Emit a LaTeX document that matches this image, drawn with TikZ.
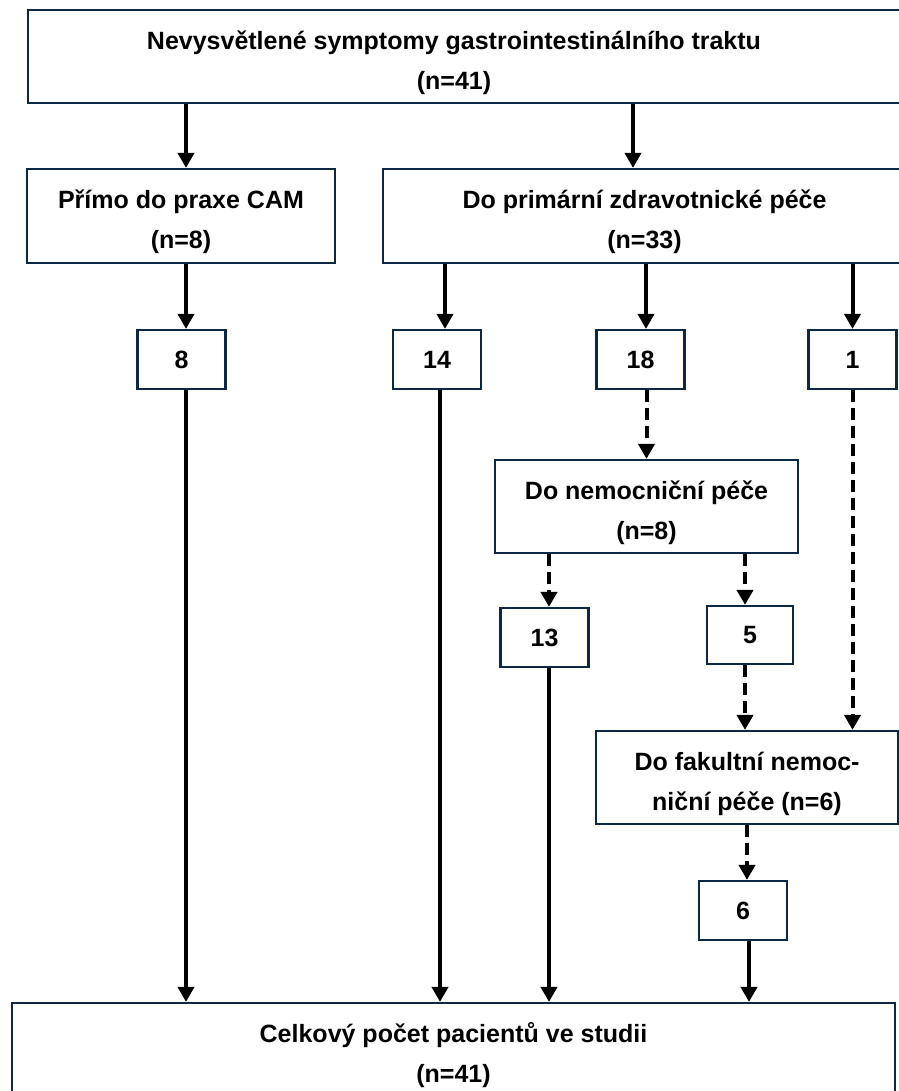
\documentclass[tikz,border=0pt]{standalone}
\usepackage{fontspec}
\setmainfont{Liberation Sans}
\usetikzlibrary{arrows.meta}
\definecolor{navy}{RGB}{14,40,65}
\newcommand{\tstrut}{\rule{0pt}{31pt}}

\begin{document}
\begin{tikzpicture}[x=1pt,y=-1pt,
  box/.style={draw=navy, line width=2.2pt, inner sep=0pt, align=center,
    font=\fontsize{25}{40}\selectfont\bfseries},
  txt/.style={align=center, inner sep=0pt, font=\fontsize{25}{40}\selectfont\bfseries},
  num/.style={box, minimum width=88pt, minimum height=59pt},
  arr/.style={line width=4pt, -{Triangle[width=16pt,length=15pt]}},
  darr/.style={arr, dash pattern=on 12pt off 6pt}]
\useasboundingbox (0,0) rectangle (898,1091);
%\draw[help lines, step=50] (0,0) grid (898,1091);
\node[box, minimum width=872pt, minimum height=93pt,
  label={[txt, xshift=-10pt]center:{\tstrut Nevysvětlené symptomy gastrointestinálního traktu\\(n=41)}}]
  (sympt) at (464,56.5) {};
\node[box, minimum width=308pt, minimum height=94pt] (prime) at (181,216) {\tstrut Přímo do praxe CAM\\(n=8)};
\node[box, minimum width=523pt, minimum height=94pt] (primar) at (644.5,216) {\tstrut Do primární zdravotnické péče\\(n=33)};
\node[num] (n8) at (181.5,359.5) {8};
\node[num] (n14) at (437,359.5) {14};
\node[num] (n18) at (640.5,359.5) {18};
\node[num] (n1) at (852.5,359.5) {1};
\node[box, minimum width=303pt, minimum height=93pt] (nemoc) at (646.5,506.5) {\tstrut Do nemocniční péče\\(n=8)};
\node[num] (n13) at (544.5,637.5) {13};
\node[num, minimum width=86pt, minimum height=58pt] (n5) at (750,635) {5};
\node[box, minimum width=302pt, minimum height=93pt] (fak) at (747,777.5) {\tstrut Do fakultní nemoc-\\niční péče (n=6)};
\node[num] (n6) at (743,910.5) {6};
\node[box, minimum width=883pt, minimum height=94pt] (total) at (453.5,1050) {\tstrut Celkový počet pacientů ve studii\\(n=41)};

% solid arrows
\draw[arr] ([xshift=5pt]prime.north |- sympt.south) -- ([xshift=5pt]prime.north);
\draw[arr] ([xshift=-11.5pt]primar.north |- sympt.south) -- ([xshift=-11.5pt]primar.north);
\draw[arr] ([xshift=4.5pt]n8.north |- prime.south) -- ([xshift=4.5pt]n8.north);
\draw[arr] ([xshift=8pt]n14.north |- primar.south) -- ([xshift=8pt]n14.north);
\draw[arr] ([xshift=5.5pt]n18.north |- primar.south) -- ([xshift=5.5pt]n18.north);
\draw[arr] (n1.north |- primar.south) -- (n1.north);
\draw[arr] ([xshift=4.5pt]n8.south) -- ([xshift=4.5pt]n8.south |- total.north);
\draw[arr] ([xshift=3pt]n14.south) -- ([xshift=3pt]n14.south |- total.north);
\draw[arr] ([xshift=4.5pt]n13.south) -- ([xshift=4.5pt]n13.south |- total.north);
\draw[arr] ([xshift=6pt]n6.south) -- ([xshift=6pt]n6.south |- total.north);
% dashed arrows
\draw[darr] (nemoc.north |- n18.south) -- (nemoc.north);
\draw[darr] ([xshift=4.5pt]n13.north |- nemoc.south) -- ([xshift=4.5pt]n13.north);
\draw[darr] ([xshift=-5pt]n5.north |- nemoc.south) -- ([xshift=-5pt]n5.north);
\draw[darr] ([xshift=-5pt]n5.south) -- ([xshift=-5pt]n5.south |- fak.north);
\draw[darr] (n1.south) -- (n1.south |- fak.north);
\draw[darr] (fak.south) -- (fak.south |- n6.north);
\end{tikzpicture}
\end{document}
